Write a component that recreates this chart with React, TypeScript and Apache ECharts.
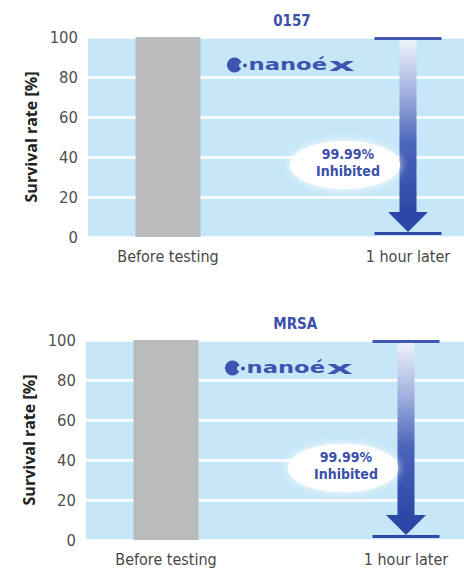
import React, { useEffect, useRef } from 'react';
import * as echarts from 'echarts';

const categories = ['Before testing', '1 hour later'];
const categorySlots = [1, 4];
const bacteria = ['0157', 'MRSA'];
const beforeValues = [100, 100];
const afterValues = [0.01, 0.01];
const inhibitedPct = [99.99, 99.99];
const yMin = 0;
const yMax = 100;
const yInterval = 20;

const grids = [
  { left: 88, top: 37, width: 376, height: 200 },
  { left: 86, top: 340, width: 378, height: 200 },
];
const PX_PER_SLOT = 80;
const NARROW = '"DejaVu Sans Condensed", "Roboto", sans-serif';
const BLUE = '#3b50aa';

function buildOption() {
  const gridOpts: any[] = [];
  const xAxes: any[] = [];
  const yAxes: any[] = [];
  const series: any[] = [];
  const titles: any[] = [];
  const graphics: any[] = [];

  grids.forEach((g, i) => {
    gridOpts.push({
      left: g.left, top: g.top, width: g.width, height: g.height,
      show: true, backgroundColor: '#c6e7f7', borderWidth: 0, containLabel: false,
    });
    xAxes.push({
      type: 'value', gridIndex: i, min: 0, max: g.width / PX_PER_SLOT, interval: 1,
      axisLine: { show: false }, axisTick: { show: false }, splitLine: { show: false },
      axisLabel: {
        margin: 11, fontSize: 16, color: '#484848', fontFamily: NARROW,
        showMinLabel: true, showMaxLabel: false,
        formatter: (v: number) => {
          const k = categorySlots.indexOf(Math.round(v * 1000) / 1000);
          return k >= 0 ? categories[k] : '';
        },
      },
    });
    yAxes.push({
      type: 'value', gridIndex: i, min: yMin, max: yMax, interval: yInterval,
      axisLine: { show: false }, axisTick: { show: false },
      splitLine: { show: true, lineStyle: { color: '#ffffff', width: 2.5 } },
      axisLabel: { margin: 10, fontSize: 16.5, color: '#505050', fontFamily: NARROW },
      name: 'Survival rate [%]', nameLocation: 'middle', nameGap: 46,
      nameTextStyle: { fontSize: 16, color: '#222222', fontWeight: 'bold', fontFamily: '"Open Sans", sans-serif' },
    });
    titles.push({
      text: bacteria[i],
      left: 283 - (bacteria[i].length * 7.4) / 2,
      top: g.top - 29,
      textStyle: { fontSize: 15, fontWeight: 'bold', color: BLUE, fontFamily: NARROW },
    });
    series.push({
      type: 'bar', xAxisIndex: i, yAxisIndex: i, barWidth: 65,
      itemStyle: { color: '#b9babc' },
      data: [[categorySlots[0], beforeValues[i]]],
    });
    series.push({
      type: 'custom', xAxisIndex: i, yAxisIndex: i, z: 5,
      data: [[categorySlots[1], beforeValues[i], afterValues[i], inhibitedPct[i]]],
      renderItem: (params: any, api: any) => {
        const x = api.value(0);
        const pTop = api.coord([x, api.value(1)]);
        const pBot = api.coord([x, api.value(2)]);
        const pLbl = api.coord([x, 38]);
        const cx = pTop[0];
        const topY = pTop[1] + 1.5;
        const botY = pBot[1] - 3.5;
        const tipY = botY - 1.5;
        const headTop = tipY - 20;
        const shaftHalf = 8.5;
        const textStyle = {
          fill: BLUE, fontSize: 14, fontWeight: 'bold',
          align: 'center', verticalAlign: 'middle', fontFamily: NARROW,
        };
        return {
          type: 'group',
          children: [
            {
              type: 'rect',
              shape: { x: cx - shaftHalf, y: topY + 1.5, width: shaftHalf * 2, height: headTop - topY - 1 },
              style: {
                fill: new echarts.graphic.LinearGradient(0, 0, 0, 1, [
                  { offset: 0, color: '#eef2fb' },
                  { offset: 0.3, color: '#a3b2df' },
                  { offset: 0.6, color: '#4b65bb' },
                  { offset: 1, color: '#2c48a6' },
                ]),
              },
            },
            {
              type: 'polygon',
              shape: { points: [[cx - 20, headTop], [cx + 20, headTop], [cx, tipY]] },
              style: { fill: '#2c48a6' },
            },
            {
              type: 'line',
              shape: { x1: cx - 33.5, y1: topY, x2: cx + 33.5, y2: topY },
              style: { stroke: '#4257b2', lineWidth: 3 },
            },
            {
              type: 'line',
              shape: { x1: cx - 33.5, y1: botY, x2: cx + 33.5, y2: botY },
              style: { stroke: '#2f49a6', lineWidth: 3 },
            },
            {
              type: 'ellipse',
              shape: { cx: cx - 63, cy: pLbl[1] + 4, rx: 55, ry: 24 },
              style: { fill: '#ffffff', shadowBlur: 8, shadowColor: 'rgba(255,255,255,0.95)' },
            },
            {
              type: 'text',
              x: cx - 60, y: pLbl[1] - 7,
              style: { ...textStyle, text: `${api.value(3)}%` },
            },
            {
              type: 'text',
              x: cx - 60, y: pLbl[1] + 10,
              style: { ...textStyle, text: 'Inhibited' },
            },
          ],
        };
      },
    });
    const lx = g.left + 146.5;
    const ly = g.top + 28;
    graphics.push({
      type: 'group', x: lx, y: ly, z: 10,
      children: [
        { type: 'circle', shape: { cx: 0, cy: 0, r: 7.5 }, style: { fill: '#3d55b0' } },
        { type: 'circle', shape: { cx: 7.5, cy: 0.5, r: 3 }, style: { fill: '#c6e7f7' } },
        { type: 'circle', shape: { cx: 10.5, cy: 0.5, r: 2 }, style: { fill: '#3d55b0' } },
        {
          type: 'text', x: 14, y: 0, scaleX: 1.42,
          style: { text: 'nanoe', fontSize: 16, fontWeight: 'bold', fill: '#3d55b0', verticalAlign: 'middle', fontFamily: '"DejaVu Sans", sans-serif' },
        },
        {
          type: 'text', x: 94, y: 0, scaleX: 2.4,
          style: { text: 'x', fontSize: 17, fontWeight: 'bold', fill: '#3d55b0', verticalAlign: 'middle', fontFamily: '"DejaVu Sans", sans-serif' },
        },
        { type: 'line', shape: { x1: 85, y1: -6, x2: 89, y2: -8.5 }, style: { stroke: '#3d55b0', lineWidth: 1.5 } },
      ],
    });
  });

  return {
    animation: false,
    backgroundColor: '#ffffff',
    title: titles,
    grid: gridOpts,
    xAxis: xAxes,
    yAxis: yAxes,
    series,
    graphic: graphics,
  };
}

export default function App() {
  const ref = useRef<HTMLDivElement>(null);
  useEffect(() => {
    document.body.style.margin = '0';
    if (!ref.current) return;
    const chart = echarts.init(ref.current, null, { renderer: 'svg' });
    chart.setOption(buildOption() as any);
    return () => chart.dispose();
  }, []);
  return <div ref={ref} style={{ width: 464, height: 576 }} />;
}
